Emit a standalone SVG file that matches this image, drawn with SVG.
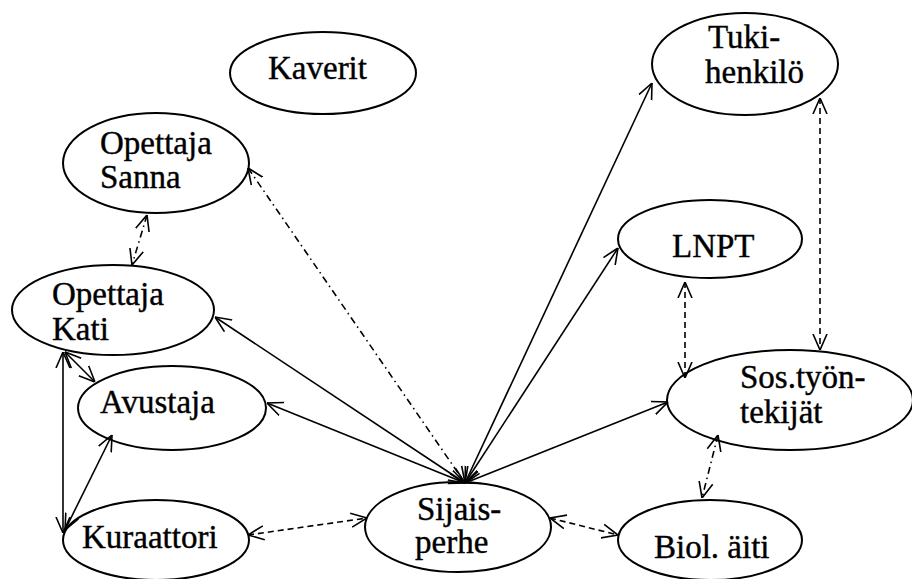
<svg xmlns="http://www.w3.org/2000/svg" width="912" height="579" viewBox="0 0 912 579">
<style>
.n ellipse{fill:#fff;stroke:#000;stroke-width:2}
.n text{font-family:"Liberation Serif","Times New Roman",serif;font-size:33px;fill:#000;stroke:#000;stroke-width:0.4}
.c line{stroke:#000;stroke-width:1.6;fill:none;marker-start:url(#ah);marker-end:url(#ah)}
.c .d{stroke-dasharray:6 4}
.c .dd{stroke-dasharray:7 4 1.5 4}
</style>
<defs>
<marker id="ah" viewBox="0 0 16 16" refX="16" refY="8" markerWidth="16" markerHeight="16" markerUnits="userSpaceOnUse" orient="auto-start-reverse">
<path d="M0,1 L16,8 L0,15" fill="none" stroke="#000" stroke-width="1.6"/>
</marker>
</defs>
<rect width="912" height="579" fill="#fff"/>
<g id="nodes" class="n">
<g id="kaverit"><ellipse cx="323" cy="73" rx="93" ry="41"/><text x="268" y="79">Kaverit</text></g>
<g id="sanna"><ellipse cx="156" cy="163" rx="93" ry="50"/><text x="100" y="154">Opettaja</text><text x="100" y="188">Sanna</text></g>
<g id="kati"><ellipse cx="113" cy="310" rx="101" ry="45"/><text x="52" y="305">Opettaja</text><text x="52" y="340">Kati</text></g>
<g id="avustaja"><ellipse cx="172" cy="408" rx="94" ry="42"/><text x="100" y="413">Avustaja</text></g>
<g id="kuraattori"><ellipse cx="156" cy="540" rx="93" ry="40"/><text x="82" y="548">Kuraattori</text></g>
<g id="sijaisperhe"><ellipse cx="458" cy="527" rx="93" ry="45"/><text x="417" y="520">Sijais-</text><text x="415" y="553">perhe</text></g>
<g id="biol"><ellipse cx="710" cy="540" rx="92" ry="40"/><text x="654" y="558">Biol. äiti</text></g>
<g id="sos"><ellipse cx="790" cy="400" rx="123" ry="50"/><text x="740" y="388">Sos.työn-</text><text x="740" y="423">tekijät</text></g>
<g id="tuki"><ellipse cx="745" cy="64" rx="93" ry="51"/><text x="708" y="48">Tuki-</text><text x="705" y="83">henkilö</text></g>
<g id="lnpt"><ellipse cx="710" cy="239" rx="92" ry="39"/><text x="672" y="257">LNPT</text></g>
</g>
<g id="connectors" class="c">
<line class="dd" x1="147" y1="215" x2="132" y2="265"/>
<line class="dd" x1="248" y1="168" x2="465" y2="483"/>
<line x1="215" y1="317" x2="465" y2="483"/>
<line x1="267" y1="403" x2="465" y2="483"/>
<line x1="652" y1="83" x2="465" y2="483"/>
<line x1="618" y1="248" x2="465" y2="483"/>
<line x1="668" y1="402" x2="465" y2="483"/>
<line x1="63" y1="352" x2="63" y2="533"/>
<line x1="65" y1="352" x2="95" y2="382"/>
<line x1="112" y1="435" x2="65" y2="530"/>
<line class="d" x1="248" y1="535" x2="367" y2="518"/>
<line class="d" x1="550" y1="518" x2="618" y2="535"/>
<line class="d" x1="685" y1="282" x2="685" y2="378"/>
<line class="d" x1="820" y1="98" x2="820" y2="350"/>
<line class="dd" x1="718" y1="435" x2="702" y2="498"/>
</g>
</svg>
